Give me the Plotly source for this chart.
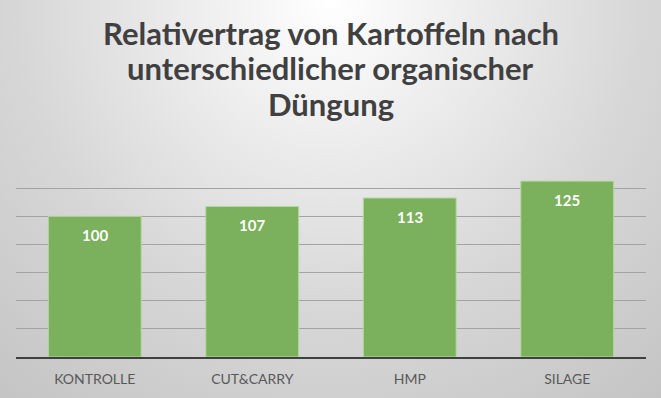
import base64
import plotly.graph_objects as go

categories = ["KONTROLLE", "CUT&CARRY", "HMP", "SILAGE"]
values = [100, 107, 113, 125]
grid_vals = [0, 20, 40, 60, 80, 100, 120]
title_lines = ["Relativertrag von Kartoffeln nach", "unterschiedlicher organischer", "Düngung"]

W, H = 661, 398
ML, MR, MT, MB = 16, 15, 160, 41
pw, ph = W - ML - MR, H - MT - MB

svg = f'''<svg xmlns="http://www.w3.org/2000/svg" width="{W}" height="{H}" viewBox="0 0 {W} {H}" preserveAspectRatio="none">
<defs><radialGradient id="g" gradientUnits="userSpaceOnUse" cx="330" cy="0" r="520">
<stop offset="0" stop-color="#ffffff"/><stop offset="0.6" stop-color="#d7d7d7"/><stop offset="1" stop-color="#c4c4c4"/>
</radialGradient></defs><rect x="0" y="0" width="{W}" height="{H}" fill="url(#g)"/></svg>'''
src = "data:image/svg+xml;base64," + base64.b64encode(svg.encode()).decode()

fig = go.Figure()
fig.add_trace(go.Bar(
    x=categories, y=values,
    marker=dict(color="#7bb05c", line=dict(color="#b8d8a2", width=1)),
    hoverinfo="skip",
))

for c, v in zip(categories, values):
    fig.add_annotation(x=c, y=v, xref="x", yref="y", text=f"<b>{v}</b>", showarrow=False,
                       yanchor="middle", yshift=-19,
                       font=dict(family="Lato", size=15, color="#ffffff"))

# title lines (pixel centres from the top of the figure)
title_centres = [33, 68, 104]
for line, yc in zip(title_lines, title_centres):
    fig.add_annotation(x=0.5 + (W / 2 - ML - pw / 2) / pw, y=1 + (MT - yc) / ph,
                       xref="paper", yref="paper", text=f"<b>{line}</b>", showarrow=False,
                       xanchor="center", yanchor="middle",
                       font=dict(family="Lato", size=31, color="#404040"))

fig.update_layout(
    width=W, height=H,
    margin=dict(l=ML, r=MR, t=MT, b=MB, pad=0),
    paper_bgcolor="#e0e0e0", plot_bgcolor="rgba(0,0,0,0)",
    showlegend=False,
    bargap=0.41,
    images=[dict(source=src, xref="paper", yref="paper", x=-ML / pw, y=1 + MT / ph,
                 sizex=W / pw, sizey=H / ph, xanchor="left", yanchor="top",
                 sizing="stretch", layer="below")],
    xaxis=dict(showline=True, linecolor="#404040", linewidth=2, showgrid=False,
               ticks="", tickfont=dict(family="Lato", size=14, color="#595959"),
               ticklabelstandoff=8),
    yaxis=dict(range=[0, 140], tickvals=grid_vals, showticklabels=False,
               showgrid=True, gridcolor="#a3a3a3", gridwidth=1, zeroline=False,
               showline=False, fixedrange=True),
)

fig.write_html("out.html")
